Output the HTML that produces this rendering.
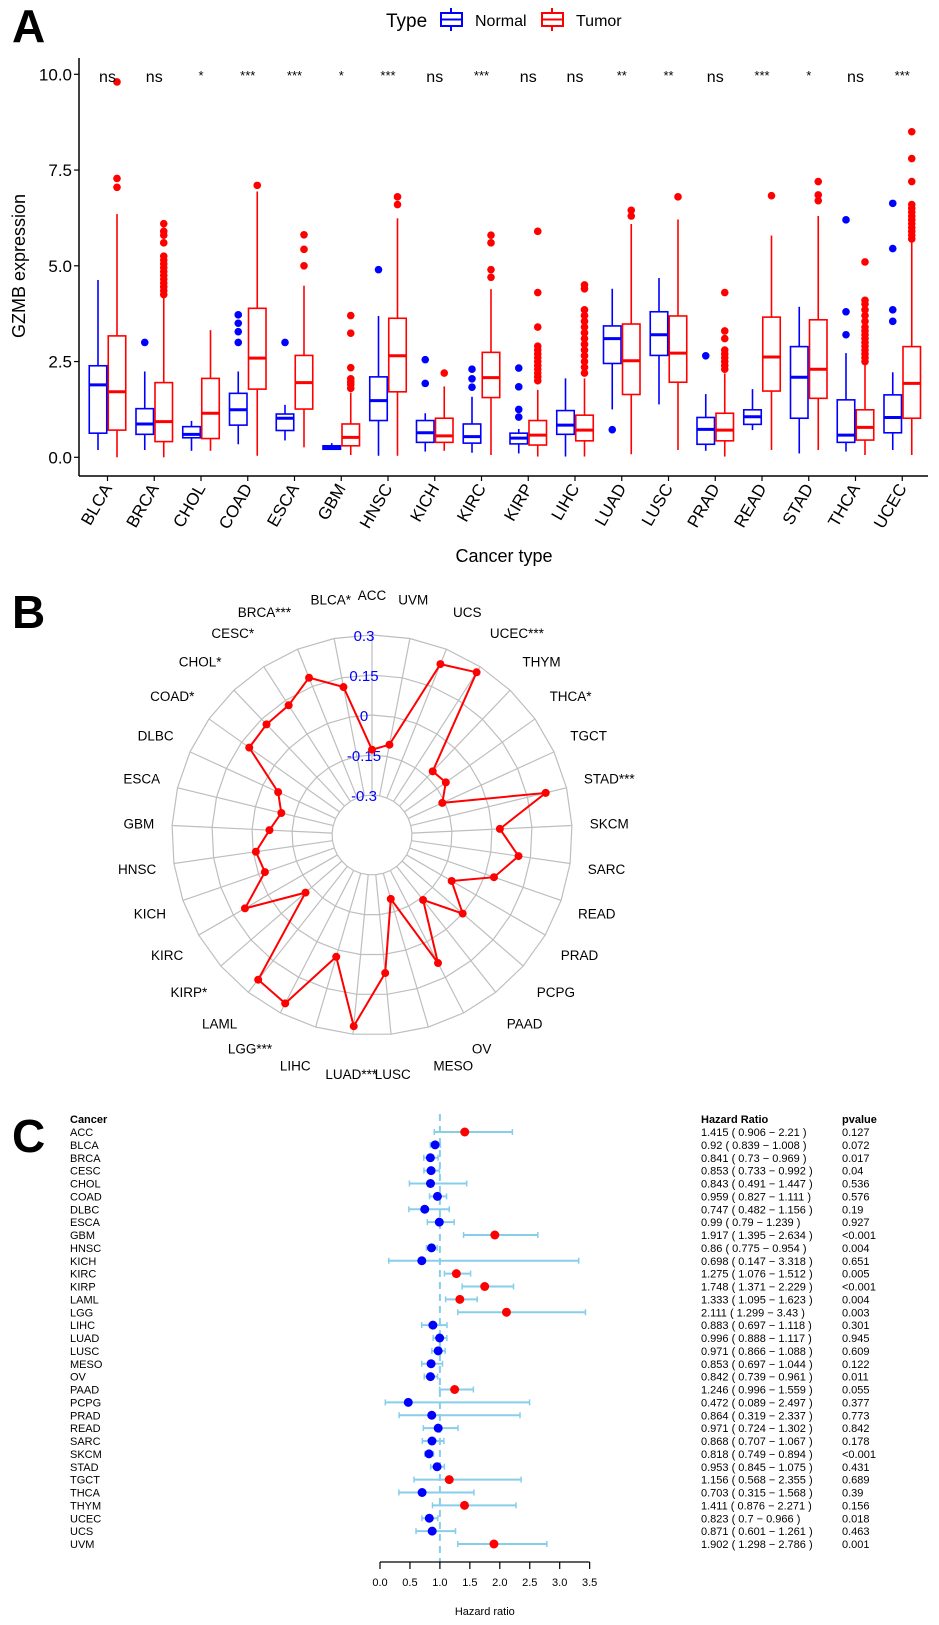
<!DOCTYPE html>
<html><head><meta charset="utf-8">
<style>
html,body{margin:0;padding:0;background:#fff;}
svg{display:block;font-family:"Liberation Sans",Arial,sans-serif;}
</style></head>
<body>
<svg id="fig" width="939" height="1625" viewBox="0 0 939 1625" xmlns="http://www.w3.org/2000/svg">
  <rect x="0" y="0" width="939" height="1625" fill="#fff"/>
  <text x="12" y="42" font-size="46" font-weight="bold">A</text>
  <text x="12" y="628" font-size="46" font-weight="bold">B</text>
  <text x="12" y="1152" font-size="46" font-weight="bold">C</text>

  <!-- legend -->
  <g>
    <text x="386" y="27" font-size="19">Type</text>
    <g>
      <line x1="451" y1="8" x2="451" y2="31" stroke="#0000FF" stroke-width="2"/>
      <rect x="441" y="13" width="21" height="13" fill="#fff" stroke="#0000FF" stroke-width="2"/>
      <line x1="441" y1="19.5" x2="462" y2="19.5" stroke="#0000FF" stroke-width="2"/>
      <text x="475" y="26" font-size="16">Normal</text>
    </g>
    <g>
      <line x1="552" y1="8" x2="552" y2="31" stroke="#FF0000" stroke-width="2"/>
      <rect x="542" y="13" width="21" height="13" fill="#fff" stroke="#FF0000" stroke-width="2"/>
      <line x1="542" y1="19.5" x2="563" y2="19.5" stroke="#FF0000" stroke-width="2"/>
      <text x="576" y="26" font-size="16">Tumor</text>
    </g>
  </g>
  <g id="panelA"></g>
  <g id="panelB"></g>
  <g id="panelC"></g>
</svg>
<script>
// ---------- Panel A data ----------
const boxCategories = ["BLCA","BRCA","CHOL","COAD","ESCA","GBM","HNSC","KICH","KIRC","KIRP","LIHC","LUAD","LUSC","PRAD","READ","STAD","THCA","UCEC"];
const significance = ["ns","ns","*","***","***","*","***","ns","***","ns","ns","**","**","ns","***","*","ns","***"];
// [low whisker, q1, median, q3, high whisker]
const normalStats = [
 [0.19,0.63,1.89,2.39,4.63],[0.19,0.6,0.87,1.27,2.24],[0.17,0.51,0.6,0.8,0.95],[0.34,0.84,1.24,1.67,2.24],
 [0.44,0.7,1.02,1.13,1.37],[0.19,0.21,0.25,0.3,0.37],[0.04,0.96,1.48,2.1,3.69],[0.15,0.39,0.64,0.96,1.15],
 [0.12,0.37,0.54,0.87,1.58],[0.1,0.35,0.5,0.63,0.74],[0.02,0.6,0.84,1.22,2.06],[1.25,2.45,3.1,3.43,4.4],
 [1.38,2.66,3.2,3.8,4.68],[0.17,0.34,0.73,1.04,1.65],[0.71,0.86,1.06,1.24,1.78],[0.1,1.02,2.09,2.89,3.93],
 [0.15,0.39,0.58,1.5,2.72],[0.19,0.64,1.04,1.63,2.22]];
const tumorStats = [
 [0,0.71,1.71,3.17,6.35],[0,0.41,0.93,1.95,4.2],[0.17,0.49,1.15,2.06,3.32],[0.04,1.78,2.59,3.89,6.94],
 [0.26,1.26,1.95,2.66,4.48],[0.06,0.3,0.52,0.87,1.69],[0.04,1.71,2.65,3.63,6.24],[0.17,0.39,0.56,1.02,1.85],
 [0.06,1.56,2.08,2.74,4.39],[0.02,0.32,0.58,0.96,1.76],[0.02,0.43,0.71,1.1,2.06],[0.08,1.64,2.52,3.48,6.09],
 [0.19,1.96,2.72,3.69,6.21],[0.02,0.43,0.71,1.15,2.19],[0.19,1.73,2.62,3.66,5.79],[0.19,1.54,2.3,3.59,6.3],
 [0.06,0.45,0.78,1.24,2.41],[0.06,1.02,1.93,2.89,5.63]];
const normalOutliers = [[],[3.0],[],[3.0,3.28,3.5,3.72],[3.0],[],[4.9],[1.93,2.55],[1.83,2.05,2.3],[1.05,1.25,1.84,2.33],[],[0.72],[],[2.65],[],[],[3.2,3.8,6.2],[3.55,3.85,5.45,6.63]];
const tumorOutliers = [
 [9.8,7.28,7.05],
 [4.25,4.35,4.45,4.55,4.65,4.75,4.85,4.95,5.05,5.15,5.25,5.6,5.8,5.9,6.1],
 [],[7.1],[5.0,5.43,5.81],[1.8,1.9,1.97,2.05,2.34,3.24,3.7],[6.6,6.8],[2.2],
 [4.7,4.9,5.6,5.8],
 [2.0,2.1,2.2,2.3,2.4,2.5,2.6,2.7,2.8,2.9,3.4,4.3,5.9],
 [2.2,2.35,2.5,2.65,2.8,2.95,3.1,3.25,3.4,3.55,3.7,3.85,4.4,4.5],
 [6.3,6.45],[6.8],
 [2.3,2.4,2.5,2.6,2.7,2.8,3.1,3.3,4.3],
 [6.83],[6.7,6.85,7.2],
 [2.5,2.6,2.7,2.8,2.9,3.0,3.1,3.2,3.3,3.4,3.55,3.7,3.85,4.0,4.1,5.1],
 [5.7,5.8,5.9,6.0,6.1,6.2,6.3,6.4,6.5,6.6,7.2,7.8,8.5]];
const yTicks = [0,2.5,5,7.5,10];
const yTickLabels = ["0.0","2.5","5.0","7.5","10.0"];

// ---------- Panel B data ----------
const radarCategories = ["ACC","UVM","UCS","UCEC***","THYM","THCA*","TGCT","STAD***","SKCM","SARC","READ","PRAD","PCPG","PAAD","OV","MESO","LUSC","LUAD***","LIHC","LGG***","LAML","KIRP*","KIRC","KICH","HNSC","GBM","ESCA","DLBC","COAD*","CHOL*","CESC*","BRCA***","BLCA*"];
const radarValues = [-0.13,-0.105,0.24,0.275,-0.12,-0.11,-0.16,0.22,0.03,0.105,0.034,-0.105,0.0,-0.14,0.09,-0.2,0.07,0.27,0.026,0.26,0.24,-0.12,0.1,-0.025,-0.01,-0.065,-0.1,-0.063,0.115,0.123,0.128,0.185,0.115];
const radarRings = [-0.3,-0.15,0,0.15,0.3];
const radarRingLabels = ["-0.3","-0.15","0","0.15","0.3"];

// ---------- Panel C data ----------
const forestCancers = ["ACC","BLCA","BRCA","CESC","CHOL","COAD","DLBC","ESCA","GBM","HNSC","KICH","KIRC","KIRP","LAML","LGG","LIHC","LUAD","LUSC","MESO","OV","PAAD","PCPG","PRAD","READ","SARC","SKCM","STAD","TGCT","THCA","THYM","UCEC","UCS","UVM"];
const forestHR = [1.415,0.92,0.841,0.853,0.843,0.959,0.747,0.99,1.917,0.86,0.698,1.275,1.748,1.333,2.111,0.883,0.996,0.971,0.853,0.842,1.246,0.472,0.864,0.971,0.868,0.818,0.953,1.156,0.703,1.411,0.823,0.871,1.902];
const forestLow = [0.906,0.839,0.73,0.733,0.491,0.827,0.482,0.79,1.395,0.775,0.147,1.076,1.371,1.095,1.299,0.697,0.888,0.866,0.697,0.739,0.996,0.089,0.319,0.724,0.707,0.749,0.845,0.568,0.315,0.876,0.7,0.601,1.298];
const forestHigh = [2.21,1.008,0.969,0.992,1.447,1.111,1.156,1.239,2.634,0.954,3.318,1.512,2.229,1.623,3.43,1.118,1.117,1.088,1.044,0.961,1.559,2.497,2.337,1.302,1.067,0.894,1.075,2.355,1.568,2.271,0.966,1.261,2.786];
const forestP = ["0.127","0.072","0.017","0.04","0.536","0.576","0.19","0.927","<0.001","0.004","0.651","0.005","<0.001","0.004","0.003","0.301","0.945","0.609","0.122","0.011","0.055","0.377","0.773","0.842","0.178","<0.001","0.431","0.689","0.39","0.156","0.018","0.463","0.001"];
const forestTicks = [0,0.5,1,1.5,2,2.5,3,3.5];
const forestTickLabels = ["0.0","0.5","1.0","1.5","2.0","2.5","3.0","3.5"];

const NS = "http://www.w3.org/2000/svg";
function mk(parent, tag, attrs, text){
  const e = document.createElementNS(NS, tag);
  for (const k in attrs) e.setAttribute(k, attrs[k]);
  if (text !== undefined) e.textContent = text;
  parent.appendChild(e);
  return e;
}
const BLUE="#0000FF", RED="#FF0000";

// ================= Panel A =================
(function(){
  const g = document.getElementById('panelA');
  const yA = v => 457.3 - v*38.3;
  const xA = i => 107.5 + 46.75*i;
  const axisX = 79, axisY = 476;
  let e = mk(g,'line',{x1:axisX,y1:58,x2:axisX,y2:axisY,stroke:'#000','stroke-width':1.5});
   
  e = mk(g,'line',{x1:axisX,y1:axisY,x2:928,y2:axisY,stroke:'#000','stroke-width':1.5});
   
  yTicks.forEach((t,k)=>{
    const tk = mk(g,'line',{x1:axisX-5,y1:yA(t),x2:axisX,y2:yA(t),stroke:'#000','stroke-width':1.2});
     
    const tl = mk(g,'text',{x:axisX-7,y:yA(t)+6,'font-size':17,'text-anchor':'end'},yTickLabels[k]);
     
  });
  const yt = mk(g,'text',{x:25,y:266,'font-size':18,'text-anchor':'middle',transform:'rotate(-90 25 266)'},'GZMB expression');
   
  const xt = mk(g,'text',{x:504,y:562,'font-size':18,'text-anchor':'middle'},'Cancer type');
   

  function drawBox(cx, s, outs, color, name){
    const grp = mk(g,'g',{});
    
    
    const w = 17.5;
    mk(grp,'line',{x1:cx,y1:yA(s[0]),x2:cx,y2:yA(s[1]),stroke:color,'stroke-width':1.6});
    mk(grp,'line',{x1:cx,y1:yA(s[3]),x2:cx,y2:yA(s[4]),stroke:color,'stroke-width':1.6});
    mk(grp,'rect',{x:cx-w/2,y:yA(s[3]),width:w,height:Math.max(0.5,yA(s[1])-yA(s[3])),fill:'#fff',stroke:color,'stroke-width':1.6});
    mk(grp,'line',{x1:cx-w/2,y1:yA(s[2]),x2:cx+w/2,y2:yA(s[2]),stroke:color,'stroke-width':3});
    outs.forEach(v=>{ mk(grp,'circle',{cx:cx,cy:yA(v),r:3.8,fill:color}); });
  }
  boxCategories.forEach((c,i)=>{
    const cx = xA(i);
    drawBox(cx-9.5, normalStats[i], normalOutliers[i], BLUE, 'box-normal-'+c.toLowerCase());
    drawBox(cx+9.5, tumorStats[i], tumorOutliers[i], RED, 'box-tumor-'+c.toLowerCase());
    const tk = mk(g,'line',{x1:cx,y1:axisY,x2:cx,y2:axisY+5,stroke:'#000','stroke-width':1.2});
     
    const lx = cx+5, ly = axisY+12;
    const tl = mk(g,'text',{x:lx,y:ly,'font-size':17,'text-anchor':'end',transform:`rotate(-60 ${lx} ${ly})`},c);
     
    const sig = significance[i];
    const st = mk(g,'text',{x:cx,y: sig==='ns'?82:80,'font-size': sig==='ns'?16:13,'text-anchor':'middle'},sig);
     
  });
})();

// ================= Panel B =================
(function(){
  const g = document.getElementById('panelB');
  const cx = 372, cy = 835;
  const rV = v => 120 + v*267;
  const n = radarCategories.length;
  const ang = i => i*2*Math.PI/n;
  const px = (i,r) => cx + r*Math.sin(ang(i));
  const py = (i,r) => cy - r*Math.cos(ang(i));
  radarRings.forEach(v=>{
    const r = rV(v);
    let pts = [];
    for (let i=0;i<n;i++) pts.push(px(i,r).toFixed(1)+','+py(i,r).toFixed(1));
    const ring = mk(g,'polygon',{points:pts.join(' '),fill:'none',stroke:'#BEBEBE','stroke-width':1.2});
     
  });
  for (let i=0;i<n;i++){
    const sp = mk(g,'line',{x1:px(i,rV(-0.3)),y1:py(i,rV(-0.3)),x2:px(i,rV(0.3)),y2:py(i,rV(0.3)),stroke:'#BEBEBE','stroke-width':1.2});
     
  }
  const hole = mk(g,'circle',{cx:cx,cy:cy,r:rV(-0.3)-1,fill:'#fff'});
   
  radarRingLabels.forEach((lab,k)=>{
    const t = mk(g,'text',{x:cx-8,y:cy-rV(radarRings[k])+6,'font-size':15,fill:BLUE,'text-anchor':'middle'},lab);
     
  });
  let pts = radarValues.map((v,i)=>px(i,rV(v)).toFixed(1)+','+py(i,rV(v)).toFixed(1));
  const poly = mk(g,'polygon',{points:pts.join(' '),fill:'none',stroke:RED,'stroke-width':2});
   
  radarValues.forEach((v,i)=>{
    const c = mk(g,'circle',{cx:px(i,rV(v)),cy:py(i,rV(v)),r:4,fill:RED});
     
  });
  radarCategories.forEach((lab,i)=>{
    const s = Math.sin(ang(i)), co = Math.cos(ang(i));
    const x = cx + 218*s, y = cy - 240*co + 5;
    const anchor = Math.abs(s)<0.2 ? 'middle' : (s>0?'start':'end');
    const t = mk(g,'text',{x:x,y:y,'font-size':13.5,'text-anchor':anchor},lab);
     
  });
})();

// ================= Panel C =================
(function(){
  const g = document.getElementById('panelC');
  const xF = v => 380 + v*59.9;
  const rowY = i => 1132 + i*12.875;
  const h1 = mk(g,'text',{x:70,y:1123,'font-size':11,'font-weight':'bold'},'Cancer');
   
  const h2 = mk(g,'text',{x:701,y:1123,'font-size':11,'font-weight':'bold'},'Hazard Ratio');
   
  const h3 = mk(g,'text',{x:842,y:1123,'font-size':11,'font-weight':'bold'},'pvalue');
   
  const ref = mk(g,'line',{x1:xF(1),y1:1114,x2:xF(1),y2:1562,stroke:'#87CEEB','stroke-width':2,'stroke-dasharray':'7,5'});
   
  forestCancers.forEach((c,i)=>{
    const y = rowY(i);
    const t1 = mk(g,'text',{x:70,y:y+4,'font-size':11},c);
     
    const t2 = mk(g,'text',{x:701,y:y+4,'font-size':11},`${forestHR[i]} ( ${forestLow[i]} \u2212 ${forestHigh[i]} )`);
     
    const t3 = mk(g,'text',{x:842,y:y+4,'font-size':11},forestP[i]);
     
    const ci = mk(g,'g',{});
     
    mk(ci,'line',{x1:xF(forestLow[i]),y1:y,x2:xF(forestHigh[i]),y2:y,stroke:'#87CEEB','stroke-width':2});
    mk(ci,'line',{x1:xF(forestLow[i]),y1:y-3,x2:xF(forestLow[i]),y2:y+3,stroke:'#87CEEB','stroke-width':1.5});
    mk(ci,'line',{x1:xF(forestHigh[i]),y1:y-3,x2:xF(forestHigh[i]),y2:y+3,stroke:'#87CEEB','stroke-width':1.5});
    const p = mk(g,'circle',{cx:xF(forestHR[i]),cy:y,r:4.5,fill: forestHR[i]>1?RED:BLUE});
     
  });
  const ax = mk(g,'line',{x1:xF(0),y1:1562,x2:xF(3.5),y2:1562,stroke:'#000','stroke-width':1.2});
   
  forestTicks.forEach((t,k)=>{
    const tk = mk(g,'line',{x1:xF(t),y1:1562,x2:xF(t),y2:1569,stroke:'#000','stroke-width':1.2});
     
    const tl = mk(g,'text',{x:xF(t),y:1586,'font-size':11,'text-anchor':'middle'},forestTickLabels[k]);
     
  });
  const xt = mk(g,'text',{x:xF(1.75),y:1615,'font-size':11,'text-anchor':'middle'},'Hazard ratio');
   
})();
</script>
</body></html>
